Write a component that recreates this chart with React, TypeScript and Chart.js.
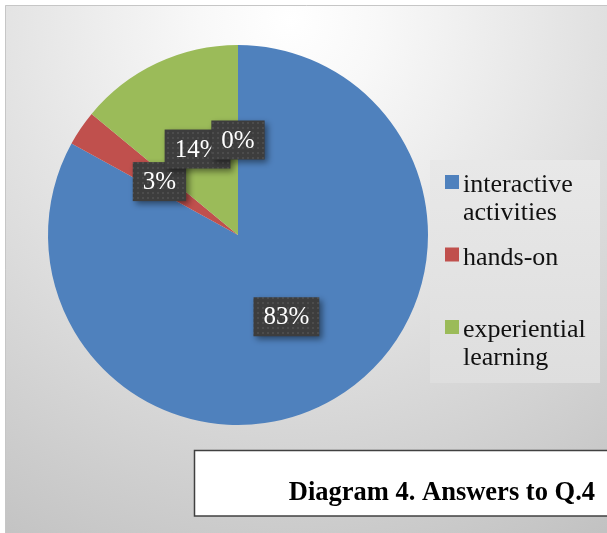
import React, { useEffect, useRef } from "react";
import { Chart, registerables } from "chart.js";

Chart.register(...registerables);

// ---- data ----
const categories = ["interactive activities", "hands-on", "experiential learning", ""];
const values = [83, 3, 14, 0];
const percentLabels = ["83%", "3%", "14%", "0%"];
const legendLines = [["interactive", "activities"], ["hands-on"], ["experiential", "learning"]];
const colors = ["#4F81BD", "#C0504D", "#9BBB59", "#8064A2"];
const titleText = "Diagram 4. Answers to Q.4";

const SERIF = '"Liberation Serif"';

function makePattern(ctx: CanvasRenderingContext2D) {
  const c = document.createElement("canvas");
  c.width = 5;
  c.height = 5;
  const p = c.getContext("2d")!;
  p.fillStyle = "#3d3d3d";
  p.fillRect(0, 0, 5, 5);
  p.fillStyle = "#4c4c4c";
  p.fillRect(2, 2, 2, 2);
  return ctx.createPattern(c, "repeat");
}

const backgroundPlugin = {
  id: "bg",
  beforeDraw(chart: any) {
    const ctx = chart.ctx as CanvasRenderingContext2D;
    const W = chart.width;
    const H = chart.height;
    ctx.save();
    ctx.fillStyle = "#ffffff";
    ctx.fillRect(0, 0, W, H);
    const g = ctx.createRadialGradient(290, 20, 0, 290, 20, 600);
    g.addColorStop(0, "#ffffff");
    g.addColorStop(0.15, "#f8f8f8");
    g.addColorStop(1, "#c2c2c2");
    ctx.fillStyle = g;
    ctx.fillRect(5, 5, W, H);
    ctx.strokeStyle = "#c6c6c6";
    ctx.lineWidth = 1;
    ctx.beginPath();
    ctx.moveTo(5.5, H);
    ctx.lineTo(5.5, 5.5);
    ctx.lineTo(W, 5.5);
    ctx.stroke();
    ctx.restore();
  },
};

const labelPlugin = {
  id: "pctLabels",
  afterDatasetsDraw(chart: any) {
    const ctx = chart.ctx as CanvasRenderingContext2D;
    const meta = chart.getDatasetMeta(0);
    const pattern = makePattern(ctx);
    meta.data.forEach((arc: any, i: number) => {
      const pos = arc.tooltipPosition();
      const text = percentLabels[i];
      ctx.save();
      ctx.font = `25px ${SERIF}`;
      const tw = ctx.measureText(text).width;
      const w = tw + 20;
      const h = 39;
      const x = pos.x - w / 2;
      const y = pos.y - h / 2;
      ctx.shadowColor = "rgba(0,0,0,0.45)";
      ctx.shadowBlur = 6;
      ctx.shadowOffsetX = 3;
      ctx.shadowOffsetY = 3;
      ctx.fillStyle = pattern || "#3d3d3d";
      ctx.fillRect(x, y, w, h);
      ctx.shadowColor = "rgba(0,0,0,0)";
      ctx.shadowBlur = 0;
      ctx.shadowOffsetX = 0;
      ctx.shadowOffsetY = 0;
      ctx.fillStyle = "#ffffff";
      ctx.textAlign = "center";
      ctx.textBaseline = "middle";
      ctx.fillText(text, pos.x, pos.y + 1);
      ctx.restore();
    });
  },
};

const overlayPlugin = {
  id: "overlay",
  afterDraw(chart: any) {
    const ctx = chart.ctx as CanvasRenderingContext2D;
    ctx.save();
    // legend box
    const lg = ctx.createLinearGradient(0, 160, 0, 383);
    lg.addColorStop(0, "#e8e8e8");
    lg.addColorStop(1, "#dedede");
    ctx.fillStyle = lg;
    ctx.fillRect(430, 160, 170, 223);
    ctx.font = `26px ${SERIF}`;
    ctx.textAlign = "left";
    ctx.textBaseline = "alphabetic";
    legendLines.forEach((lines, i) => {
      const base = 192 + i * 72.5;
      ctx.fillStyle = colors[i];
      ctx.fillRect(445, base - 17, 14, 14);
      ctx.fillStyle = "#111111";
      lines.forEach((ln, j) => {
        ctx.fillText(ln, 463, base + j * 28);
      });
    });
    // title box
    ctx.fillStyle = "#ffffff";
    ctx.fillRect(194, 450, 430, 66);
    ctx.strokeStyle = "#404040";
    ctx.lineWidth = 1.5;
    ctx.strokeRect(194.5, 450.5, 430, 65.5);
    ctx.fillStyle = "#000000";
    ctx.font = `bold 26.5px ${SERIF}`;
    ctx.textAlign = "right";
    ctx.fillText(titleText, 595, 500);
    ctx.restore();
  },
};

export default function App() {
  const ref = useRef<HTMLCanvasElement | null>(null);
  useEffect(() => {
    document.body.style.margin = "0";
    const canvas = ref.current!;
    const chart = new Chart(canvas, {
      type: "pie",
      data: {
        labels: categories,
        datasets: [
          {
            data: values,
            backgroundColor: colors,
            borderWidth: 0,
          },
        ],
      },
      options: {
        responsive: false,
        animation: false,
        radius: 190,
        layout: { padding: { left: 0, top: 0, right: 131, bottom: 63 } },
        plugins: {
          legend: { display: false },
          tooltip: { enabled: false },
          title: { display: false },
        },
      } as any,
      plugins: [backgroundPlugin, labelPlugin, overlayPlugin],
    });
    return () => {
      chart.destroy();
    };
  }, []);
  return (
    <div style={{ width: 607, height: 533 }}>
      <canvas ref={ref} width={607} height={533} style={{ display: "block" }} />
    </div>
  );
}
